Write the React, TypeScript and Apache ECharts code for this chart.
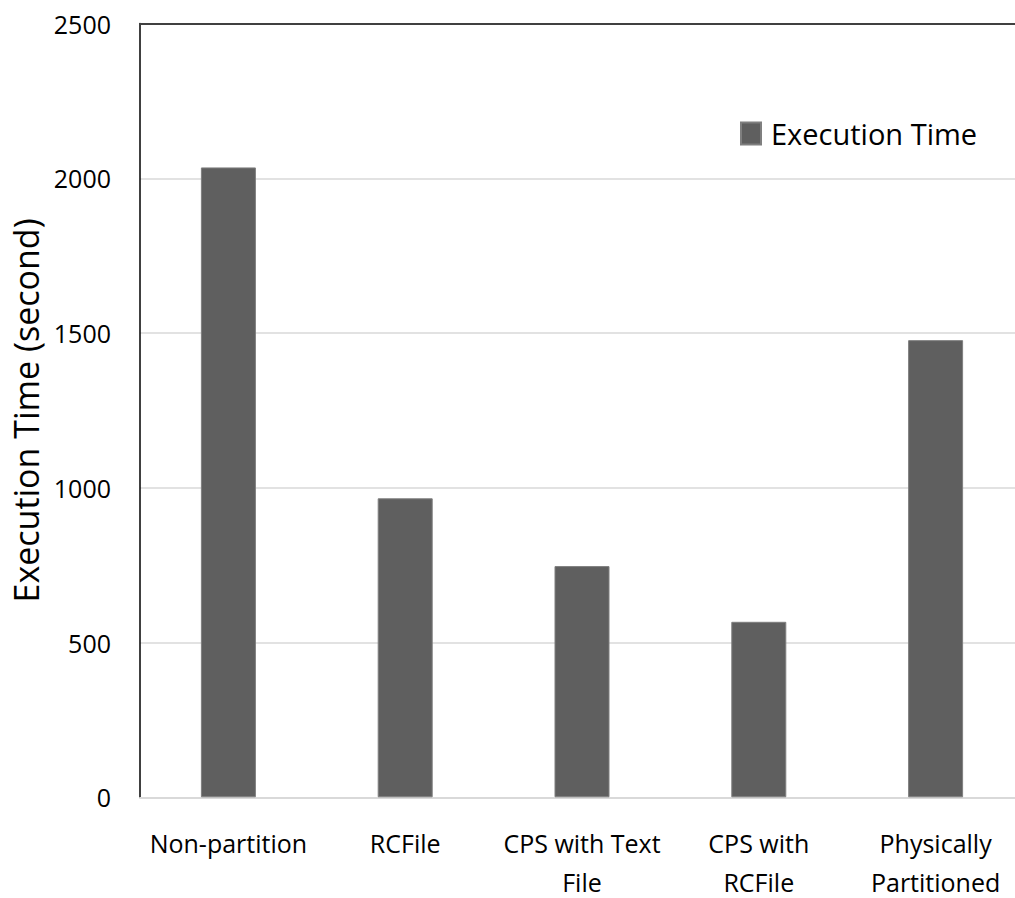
import React, { useEffect, useRef } from "react";
import * as echarts from "echarts";

// Query execution time per storage layout (seconds)
const categories = [
  "Non-partition",
  "RCFile",
  "CPS with Text\nFile",
  "CPS with\nRCFile",
  "Physically\nPartitioned",
];
const executionTime = [2035, 966, 747, 567, 1477];
const seriesName = "Execution Time";
const yAxisTitle = "Execution Time (second)";
const yTicks = { min: 0, max: 2500, interval: 500 };

const FONT = "'Open Sans', 'Noto Sans', sans-serif";

export default function App() {
  const ref = useRef<HTMLDivElement>(null);

  useEffect(() => {
    if (!ref.current) return;
    const chart = echarts.init(ref.current, undefined, { renderer: "svg" });
    chart.setOption({
      animation: false,
      backgroundColor: "#ffffff",
      grid: {
        left: 140,
        top: 23.5,
        right: 16,
        bottom: 100.7,
        show: false,
        containLabel: false,
        outerBoundsMode: "none",
      },
      legend: {
        show: true,
        left: 740,
        top: 119,
        padding: 0,
        itemWidth: 20,
        itemHeight: 22,
        icon: "rect",
        textStyle: {
          fontFamily: FONT,
          fontSize: 29,
          color: "#000000",
          padding: [0, 0, 0, 5],
        },
        data: [seriesName],
      },
      xAxis: [
        {
          type: "category",
          data: categories,
          position: "bottom",
          axisLine: { show: true, lineStyle: { color: "#d9d9d9", width: 2 } },
          axisTick: { show: false },
          axisLabel: {
            fontFamily: FONT,
            fontSize: 25,
            lineHeight: 39,
            color: "#000000",
            margin: 26,
            interval: 0,
          },
        },
        {
          type: "category",
          data: categories,
          position: "top",
          axisLine: { show: true, lineStyle: { color: "#404040", width: 2 } },
          axisTick: { show: false },
          axisLabel: { show: false },
        },
      ],
      yAxis: {
        type: "value",
        min: yTicks.min,
        max: yTicks.max,
        interval: yTicks.interval,
        name: yAxisTitle,
        nameLocation: "middle",
        nameGap: 88,
        nameTextStyle: { fontFamily: FONT, fontSize: 34, color: "#000000" },
        axisLine: { show: true, lineStyle: { color: "#000000", width: 1.5 } },
        axisTick: { show: false },
        axisLabel: {
          fontFamily: FONT,
          fontSize: 25,
          color: "#000000",
          margin: 29,
          formatter: (v: number) => String(v),
        },
        splitLine: { show: true, lineStyle: { color: "#d9d9d9", width: 1.5 } },
      },
      series: [
        {
          name: seriesName,
          type: "bar",
          data: executionTime,
          barWidth: 55,
          itemStyle: { color: "#5f5f5f", borderColor: "#7f7f7f", borderWidth: 1 },
        },
      ],
    });
    return () => chart.dispose();
  }, []);

  return (
    <div
      style={{
        position: "fixed",
        left: 0,
        top: 0,
        width: 1015,
        height: 898,
        overflow: "hidden",
        background: "#ffffff",
      }}
    >
      <div ref={ref} style={{ width: 1040, height: 898 }} />
    </div>
  );
}
